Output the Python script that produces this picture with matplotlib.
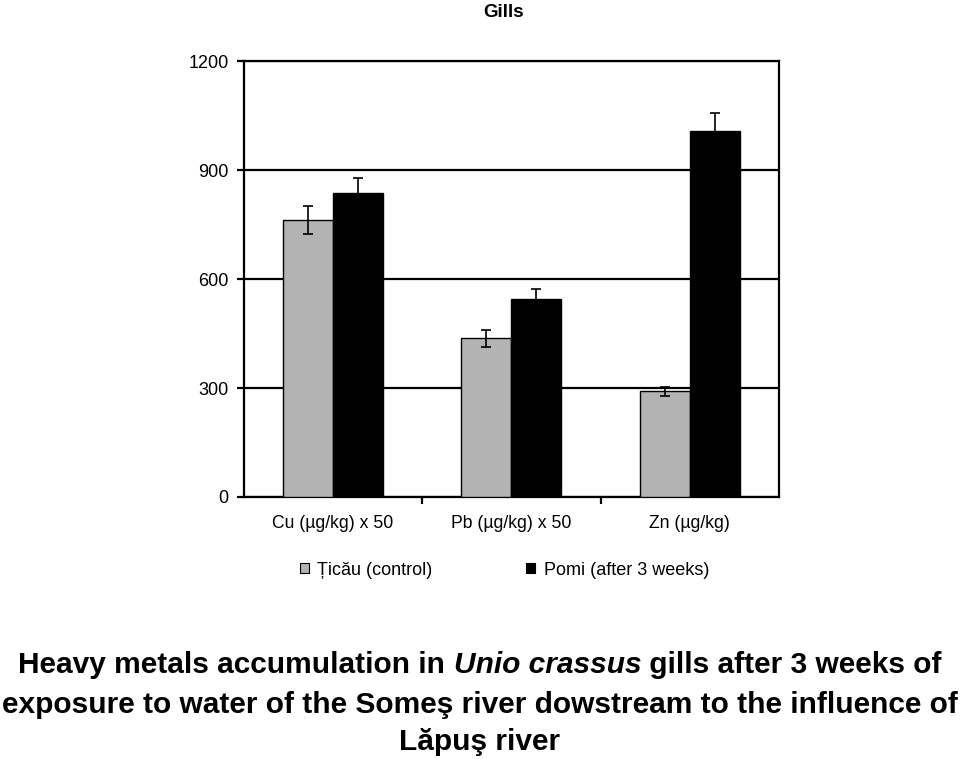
import numpy as np
import matplotlib.pyplot as plt
from matplotlib.patches import Patch

plt.rcParams['font.family'] = ['Liberation Sans', 'DejaVu Sans']

# data
metals = ['Cu (µg/kg) x 50', 'Pb (µg/kg) x 50', 'Zn (µg/kg)']
ticau = [762, 437, 291]
ticau_err = [39, 23, 13]
pomi = [838, 546, 1008]
pomi_err = [41, 26, 50]
series_names = ['Țicău (control)', 'Pomi (after 3 weeks)']

fig = plt.figure(figsize=(9.6, 7.59), dpi=100)
ax = fig.add_axes([0.254, 0.3452, 0.5575, 0.5744])

x = np.arange(len(metals))
w = 0.28
ax.bar(x - w / 2, ticau, w, color='#b3b3b3', edgecolor='black', linewidth=1, zorder=3)
ax.bar(x + w / 2, pomi, w, color='black', edgecolor='black', linewidth=1, zorder=3)
ax.errorbar(x - w / 2, ticau, yerr=ticau_err, fmt='none', ecolor='black',
            elinewidth=1.2, capsize=3.7, capthick=1.2, zorder=4)
ax.errorbar(x + w / 2, pomi, yerr=pomi_err, fmt='none', ecolor='black',
            elinewidth=1.2, capsize=3.7, capthick=1.2, zorder=4)

ax.set_xlim(-0.5, 2.5)
ax.set_ylim(0, 1200)
ax.set_yticks([0, 300, 600, 900, 1200])
ax.yaxis.grid(True, color='black', linewidth=1.6)
ax.set_axisbelow(True)
for s in ax.spines.values():
    s.set_linewidth(1.6)

# categories between ticks
ax.set_xticks([0.5, 1.5], minor=False)
ax.set_xticklabels([])
ax.set_xticks(x, minor=True)
ax.set_xticklabels(metals, minor=True, fontsize=12.7)
ax.tick_params(axis='x', which='minor', length=0, pad=13)
ax.tick_params(axis='x', which='major', length=5, width=1.6, direction='out')
ax.tick_params(axis='y', length=5, width=1.6, labelsize=13, pad=6)

fig.text(0.525, 0.983, 'Gills', ha='center', va='center', fontsize=13.5, fontweight='bold')

handles = [Patch(facecolor='#b3b3b3', edgecolor='black', linewidth=0.8),
           Patch(facecolor='black', edgecolor='black', linewidth=0.8)]
fig.legend(handles, series_names, loc='center', bbox_to_anchor=(0.5255, 0.249), ncol=2,
           frameon=False, fontsize=13, handlelength=0.5, handleheight=0.5,
           handletextpad=0.45, columnspacing=5.2)

# caption with italic species name
fig.canvas.draw()
r = fig.canvas.get_renderer()
parts = [('Heavy metals accumulation in ', 'normal'), ('Unio crassus', 'italic'),
         (' gills after 3 weeks of', 'normal')]
cap_fs = 21.5
texts = []
for s, st in parts:
    t = fig.text(0, 0.124, s, fontsize=cap_fs, fontweight='bold', fontstyle=st,
                 ha='left', va='center')
    texts.append(t)
widths = [t.get_window_extent(r).width for t in texts]
total = sum(widths)
x0 = (fig.bbox.width - total) / 2
for t, wd in zip(texts, widths):
    t.set_x(x0 / fig.bbox.width)
    x0 += wd
fig.text(0.5, 0.071, 'exposure to water of the Someş river dowstream to the influence of',
         fontsize=cap_fs, fontweight='bold', ha='center', va='center')
fig.text(0.5, 0.022, 'Lăpuş river', fontsize=cap_fs, fontweight='bold',
         ha='center', va='center')

fig.savefig('out.png', dpi=100)
